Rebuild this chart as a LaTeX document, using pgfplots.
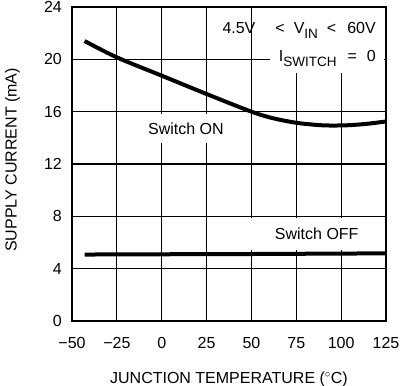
\documentclass[border=0pt]{standalone}
\usepackage{fontspec}
\setmainfont{Liberation Sans}
\usepackage{pgfplots}
\pgfplotsset{compat=1.18}
\newcommand{\ff}{\fontsize{16}{19}\selectfont}
\newcommand{\sub}[1]{\raisebox{-5pt}{\fontsize{13.5}{16}\selectfont #1}}
\begin{document}
\begin{tikzpicture}
\begin{axis}[
  at={(0,0)}, anchor=south west,
  scale only axis, width=314pt, height=314pt,
  xmin=-50, xmax=125, ymin=0, ymax=24,
  xtick={-50,-25,0,25,50,75,100,125},
  xticklabels={−50,−25,0,25,50,75,100,125},
  ytick={0,4,8,12,16,20,24},
  yticklabels={0,4,8,12,16,20,24},
  major tick length=0pt,
  grid=major,
  grid style={black, line width=1.25pt},
  axis line style={black, line width=1.5pt},
  tick label style={font=\ff},
  xticklabel style={anchor=base, yshift=-27.3pt},
  yticklabel style={anchor=east, inner sep=0pt, xshift=-10pt},
  label style={font=\ff},
  xlabel={JUNCTION TEMPERATURE ($^{\circ}$C)},
  ylabel={SUPPLY CURRENT (mA)},
  xlabel style={at={(axis description cs:0.5,-0.2006)}, anchor=base},
  ylabel style={at={(axis description cs:-0.1761,0.513)}, anchor=base},
  clip=true,
]
\fill[white] (axis cs:60.2,18.95) rectangle (axis cs:123.8,23.9);
\fill[white] (axis cs:41.3,5.45) rectangle (axis cs:124.5,7.9);
\fill[white] (axis cs:-6.6,13.6) rectangle (axis cs:35.2,15.8);
\addplot[black, line width=4pt, smooth] coordinates {
 (-43,21.4) (-25,20.15) (0,18.75) (25,17.35) (50,16.0) (62,15.5) (75,15.15) (87,14.98) (95,14.94) (105,14.97) (115,15.08) (125,15.25)};
\addplot[black, line width=4pt] coordinates {
 (-43,5.08) (0,5.1) (50,5.12) (125,5.17)};
\node[font=\ff] at (axis cs:13.5,14.71) {Switch ON};
\node[font=\ff] at (axis cs:86.4,6.70) {Switch OFF};
\node[font=\ff, anchor=base east, inner sep=0pt] at (axis cs:119.4,21.99) {4.5V\hspace{20pt}<\hspace{9pt}V\sub{IN}\hspace{9pt}<\hspace{11pt}60V};
\node[font=\ff, anchor=base east, inner sep=0pt] at (axis cs:119.4,19.82) {I\sub{SWITCH}\hspace{11pt}=\hspace{10pt}0};
\end{axis}
\pgfresetboundingbox
\path (-72pt,-65pt) rectangle (328pt,321pt);
\end{tikzpicture}
\end{document}
